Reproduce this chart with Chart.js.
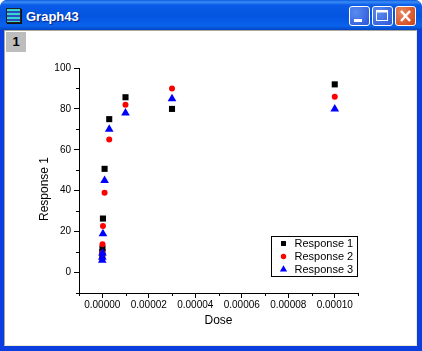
<!DOCTYPE html>
<html>
<head>
<meta charset="utf-8">
<title>Graph43</title>
<script src="https://cdn.jsdelivr.net/npm/chart.js@4/dist/chart.umd.js"></script>
<style>
  html, body { margin: 0; padding: 0; background: #fff; }
  #win { position: absolute; left: 0; top: 0; width: 422px; height: 351px; overflow: hidden;
         background: #0a3ede; border-radius: 7px 7px 0 0; }
  #titlebar { position: absolute; left: 0; top: 0; width: 422px; height: 30px; border-radius: 7px 7px 0 0;
         background: linear-gradient(#0a5ae0 0, #3c8cf5 2px, #0a5ce8 5px, #0355e0 16px, #0a62ec 26px, #0344c4 30px); }
  #titletext { position: absolute; left: 26px; top: 9px; font: bold 13px "Liberation Sans", sans-serif; color: #fff;
         text-shadow: 1px 1px 1px #0a1f80; }
  #icon { position: absolute; left: 6px; top: 8px; width: 13px; height: 13px; border: 1px solid #222;
         background: repeating-linear-gradient(#38d6d0 0, #38d6d0 2px, #2a50c0 2px, #2a50c0 4px); box-shadow: 1px 1px 0 #111; }
  .btn { position: absolute; top: 6px; width: 19px; height: 18px; border: 1px solid #fff; border-radius: 3px;
         background: radial-gradient(circle at 30% 30%, #5a8cf0, #2a55d8); }
  .btn.close { background: radial-gradient(circle at 30% 30%, #ea8a60, #cf3d12); }
  .btn svg { position: absolute; left: 0; top: 0; }
  #panel { position: absolute; left: 4px; top: 30px; width: 413px; height: 316px; background: #fff;
         border: 1px solid #aca899; border-right-color: #ece9d8; border-bottom-color: #ece9d8; box-sizing: border-box; }
  #tab { position: absolute; left: 6px; top: 32px; width: 20px; height: 20px; background: #bdbdbd;
         font: bold 13px "Liberation Sans", sans-serif; text-align: center; line-height: 20px; color: #000; }
  #chart { position: absolute; left: 0; top: 0; }
</style>
</head>
<body>
<div id="win">
  <div id="titlebar"></div>
  <div id="icon"></div>
  <div id="titletext">Graph43</div>
  <div class="btn" style="left:349px"><svg width="19" height="18"><rect x="4" y="12" width="8" height="3" fill="#fff"/></svg></div>
  <div class="btn" style="left:372px"><svg width="19" height="18"><rect x="3.5" y="3.5" width="11" height="10" fill="none" stroke="#fff"/><rect x="3" y="3" width="12" height="2.5" fill="#fff"/></svg></div>
  <div class="btn close" style="left:395px"><svg width="19" height="18"><path d="M5 4 L14 14 M14 4 L5 14" stroke="#fff" stroke-width="2.4"/></svg></div>
  <div id="panel"></div>
  <div id="tab">1</div>
  <canvas id="chart" width="422" height="351"></canvas>
</div>
<script>
const dose = [1e-8, 3e-8, 1e-7, 3e-7, 1e-6, 3e-6, 1e-5, 3e-5, 1e-4];
const response1 = [8, 10, 11.8, 26.4, 50.7, 75, 85.7, 80, 92];
const response2 = [7, 9.5, 13.8, 22.7, 39, 65, 82, 90, 86];
const response3 = [6, 7.5, 9.5, 19, 45, 70, 78, 85, 80];
const seriesNames = ["Response 1", "Response 2", "Response 3"];

const xTickValues = [-1e-5, 0, 1e-5, 2e-5, 3e-5, 4e-5, 5e-5, 6e-5, 7e-5, 8e-5, 9e-5, 1e-4, 1.1e-4];
const xTickLabels = ["", "0.00000", "", "0.00002", "", "0.00004", "", "0.00006", "", "0.00008", "", "0.00010", ""];
const yTickValues = [-10, 0, 10, 20, 30, 40, 50, 60, 70, 80, 90, 100];
const yTickLabels = ["", "0", "", "20", "", "40", "", "60", "", "80", "", "100"];
const yAxisTitle = "Response 1";

const font = "Liberation Sans";

function points(values) {
  return values.map((v, i) => ({ x: dose[i], y: v }));
}

// legend markers are not the same size as each other, so each gets its own little canvas
function legendSymbol(style, radius, color) {
  const c = document.createElement("canvas");
  c.width = 9;
  c.height = 9;
  const ctx = c.getContext("2d");
  ctx.fillStyle = color;
  Chart.helpers.drawPoint(ctx, { pointStyle: style, radius: radius, rotation: 0, borderWidth: 0 }, 4.5, 4.5);
  return c;
}

const legendSymbols = [
  legendSymbol("rect", 3.5, "#000"),
  legendSymbol("circle", 2.7, "#ff0000"),
  legendSymbol("triangle", 4.2, "#0000ff"),
];

// short ticks for the unlabelled values, the library only has one tick length
const minorTicks = {
  id: "minorTicks",
  afterDraw(chart) {
    const ctx = chart.ctx;
    const { x, y } = chart.scales;
    ctx.save();
    ctx.strokeStyle = "#000";
    ctx.lineWidth = 1;
    ctx.beginPath();
    xTickValues.forEach((v, i) => {
      if (xTickLabels[i]) return;
      const px = Math.round(x.getPixelForValue(v)) + 0.5;
      ctx.moveTo(px, y.bottom);
      ctx.lineTo(px, y.bottom + 3);
    });
    yTickValues.forEach((v, i) => {
      if (yTickLabels[i]) return;
      const py = Math.round(y.getPixelForValue(v)) + 0.5;
      ctx.moveTo(x.left, py);
      ctx.lineTo(x.left - 3, py);
    });
    ctx.stroke();
    ctx.restore();
  },
};

// the y title sits below the middle of the axis in the original, so it is placed by hand
const yTitle = {
  id: "yTitle",
  afterDraw(chart) {
    const ctx = chart.ctx;
    ctx.save();
    ctx.translate(45, 189);
    ctx.rotate(-Math.PI / 2);
    ctx.fillStyle = "#000";
    ctx.font = "12px '" + font + "'";
    ctx.textAlign = "center";
    ctx.textBaseline = "middle";
    ctx.fillText(yAxisTitle, 0, 0);
    ctx.restore();
  },
};

// legend sits inside the plot, lower right, with a box round it
const legendBox = {
  id: "legendBox",
  afterLayout(chart) {
    const l = chart.legend;
    l.left = 276;
    l.right = 358;
    l.width = 82;
    l.top = 236;
    l.bottom = 277;
    l.height = 41;
  },
  afterDraw(chart) {
    const ctx = chart.ctx;
    ctx.save();
    ctx.strokeStyle = "#000";
    ctx.lineWidth = 1;
    ctx.strokeRect(271.5, 236.5, 86, 40);
    ctx.restore();
  },
};

new Chart(document.getElementById("chart").getContext("2d"), {
  type: "scatter",
  data: {
    datasets: [
      { label: seriesNames[0], data: points(response1), pointStyle: "rect", pointRadius: 4.3, backgroundColor: "#000", borderWidth: 0, order: 3 },
      { label: seriesNames[1], data: points(response2), pointStyle: "circle", pointRadius: 3, backgroundColor: "#ff0000", borderWidth: 0, order: 2 },
      { label: seriesNames[2], data: points(response3), pointStyle: "triangle", pointRadius: 5, backgroundColor: "#0000ff", borderWidth: 0, order: 1 },
    ],
  },
  plugins: [minorTicks, yTitle, legendBox],
  options: {
    responsive: false,
    animation: false,
    layout: { padding: { left: 0, top: 68, right: 64, bottom: 0 } },
    plugins: {
      tooltip: { enabled: false },
      legend: {
        position: "chartArea",
        align: "start",
        labels: {
          usePointStyle: true,
          boxWidth: 15,
          boxHeight: 4.5,
          padding: 2,
          color: "#000",
          font: { family: font, size: 11 },
          sort: (a, b) => a.datasetIndex - b.datasetIndex,
          generateLabels(chart) {
            const items = Chart.defaults.plugins.legend.labels.generateLabels(chart);
            items.forEach((item) => { item.pointStyle = legendSymbols[item.datasetIndex]; });
            return items;
          },
        },
      },
    },
    scales: {
      x: {
        type: "linear",
        min: -1e-5,
        max: 1.1e-4,
        afterFit(scale) { scale.height = 58; },
        afterBuildTicks(scale) { scale.ticks = xTickValues.map((v) => ({ value: v })); },
        border: { color: "#000", width: 1 },
        grid: {
          drawOnChartArea: false,
          tickLength: 5,
          tickColor: (c) => (xTickLabels[c.index] ? "#000" : "transparent"),
        },
        ticks: {
          autoSkip: false,
          maxRotation: 0,
          padding: 1,
          color: "#000",
          font: { family: font, size: 10 },
          callback: (v, i) => xTickLabels[i],
        },
        title: { display: true, text: "Dose", color: "#000", font: { family: font, size: 12 }, padding: { top: 0, bottom: 23 } },
      },
      y: {
        type: "linear",
        min: -10,
        max: 100,
        afterFit(scale) { scale.width = 79; },
        afterBuildTicks(scale) { scale.ticks = yTickValues.map((v) => ({ value: v })); },
        border: { color: "#000", width: 1 },
        grid: {
          drawOnChartArea: false,
          tickLength: 5,
          tickColor: (c) => (yTickLabels[c.index] ? "#000" : "transparent"),
        },
        ticks: {
          autoSkip: false,
          padding: 3,
          color: "#000",
          font: { family: font, size: 10 },
          callback: (v, i) => yTickLabels[i],
        },
      },
    },
  },
});
</script>
</body>
</html>
